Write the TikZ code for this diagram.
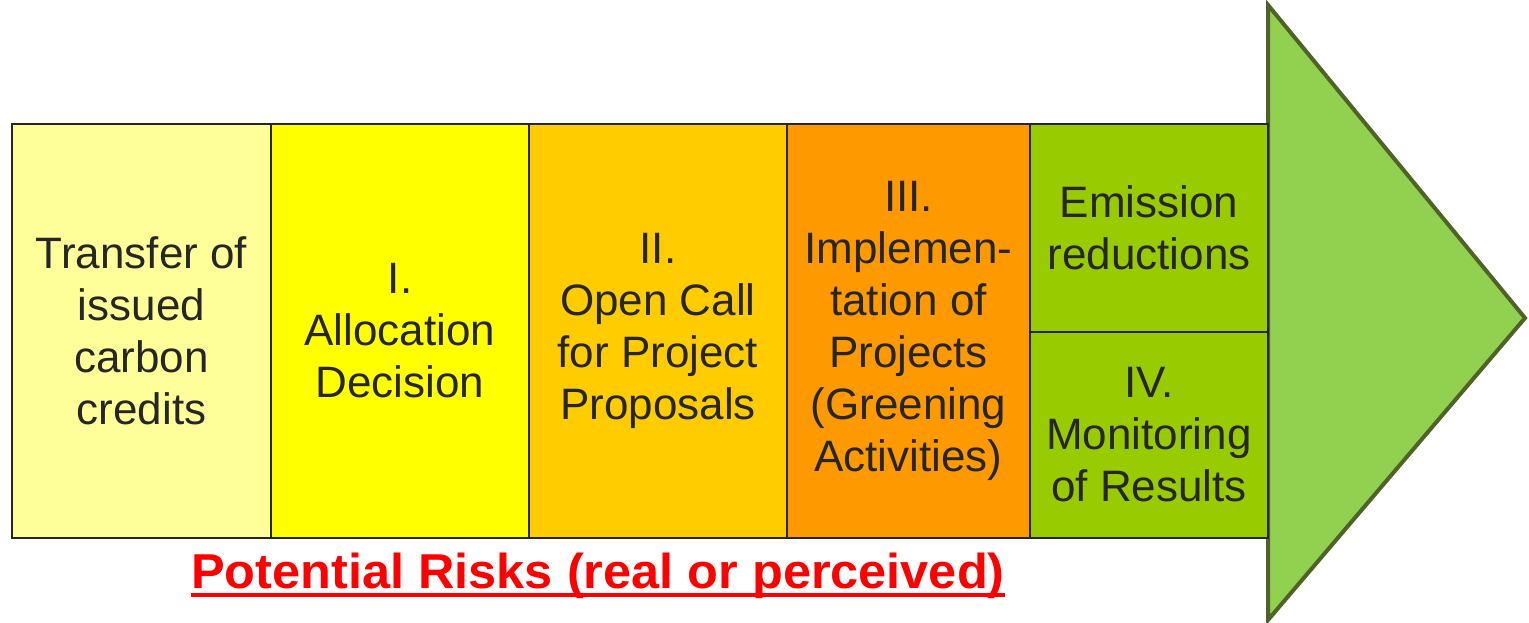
\documentclass[tikz,border=0pt]{standalone}
\usepackage{fontspec}
\setmainfont{Liberation Sans}
\usepackage{tikz}
\usetikzlibrary{positioning}
\definecolor{paleyel}{HTML}{FFFF99}
\definecolor{brightyel}{HTML}{FFFF00}
\definecolor{gold}{HTML}{FFCC00}
\definecolor{tang}{HTML}{FF9900}
\definecolor{lime}{HTML}{99CC00}
\definecolor{leaf}{HTML}{92D050}
\definecolor{olive}{HTML}{4F6228}
\definecolor{txt}{HTML}{262626}
\definecolor{risk}{HTML}{FF0000}
\tikzset{stagebox/.style={draw=txt,line width=2pt,inner sep=0pt,outer sep=0pt,align=center,text=txt,font=\fontsize{44}{52}\selectfont}, arrowhead/.style={draw=olive,fill=leaf,line width=4pt,line join=miter}, risknote/.style={text=risk,inner sep=0pt,font=\fontsize{49}{52}\bfseries}}
\begin{document}
\begin{tikzpicture}[x=1pt,y=-1pt]
\useasboundingbox (0,0) rectangle (1529,623);
\draw[arrowhead] (1268,5)--(1525,318)--(1268,620)--cycle;
\node[stagebox,fill=paleyel,minimum width=259pt,minimum height=414pt] (transfer) at (141.5,331) {Transfer of\\issued\\carbon\\credits};
\node[stagebox,fill=brightyel,minimum width=258pt,minimum height=414pt,right=0pt of transfer] (alloc) {I.\\Allocation\\Decision};
\node[stagebox,fill=gold,minimum width=258pt,minimum height=414pt,right=0pt of alloc] (call) {II.\\Open Call\\for Project\\Proposals};
\node[stagebox,fill=tang,minimum width=243pt,minimum height=414pt,right=0pt of call] (impl) {III.\\Implemen-\\tation of\\Projects\\(Greening\\Activities)};
\node[stagebox,fill=lime,minimum width=238pt,minimum height=208pt,anchor=north west] (emis) at (impl.north east) {Emission\\reductions};
\node[stagebox,fill=lime,minimum width=238pt,minimum height=206pt,below=0pt of emis] (monit) {IV.\\Monitoring\\of Results};
% risk line under the stages
\node[risknote,anchor=base] (risks) at (598,588) {\scalebox{1.03}[1]{Potential Risks (real or perceived)}};
\draw[risk,line width=4pt] ([yshift=-7pt]risks.base west)--([yshift=-7pt]risks.base east);
\end{tikzpicture}
\end{document}
